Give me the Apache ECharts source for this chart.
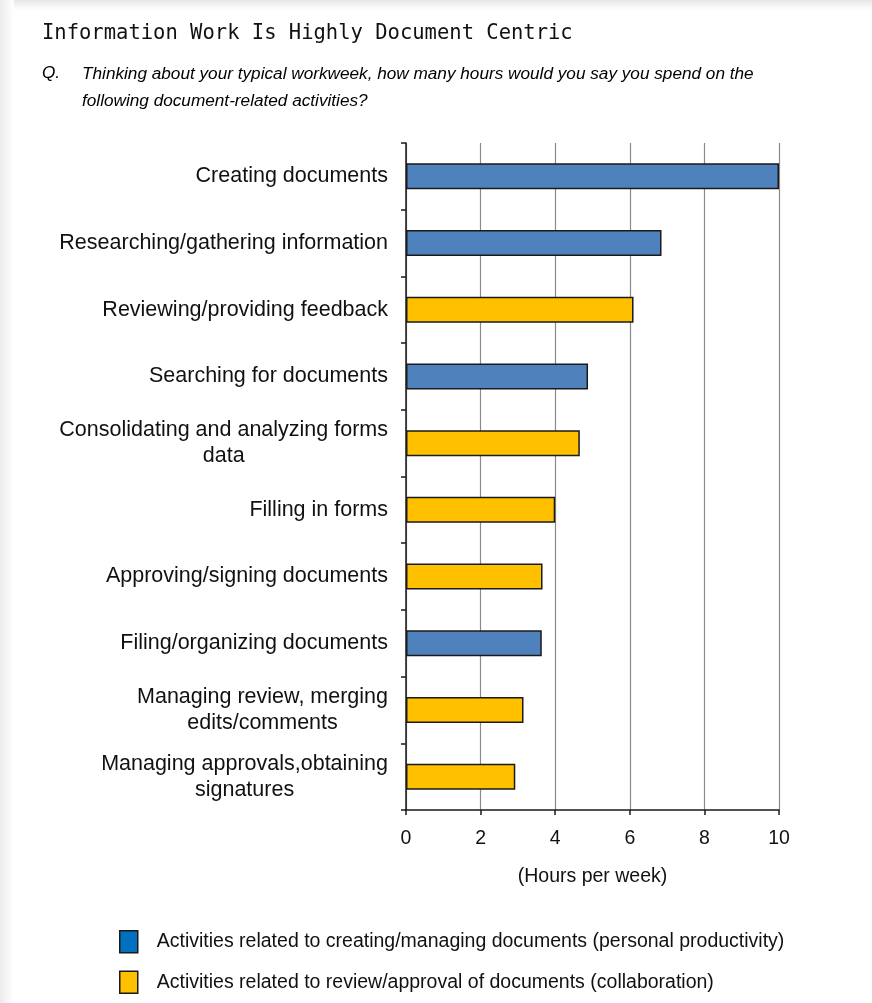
<!DOCTYPE html>
<html>
<head>
<meta charset="utf-8">
<script src="https://cdn.jsdelivr.net/npm/echarts@6/dist/echarts.min.js"></script>
<style>
html,body{margin:0;padding:0;background:#fff;}
#chart{width:872px;height:1003px;}
</style>
</head>
<body>
<div id="chart"></div>
<script>
const titleText = 'Information Work Is Highly Document Centric';
const questionLines = ['Thinking about your typical workweek, how many hours would you say you spend on the', 'following document-related activities?'];
const categories = [
  'Creating documents',
  'Researching/gathering information',
  'Reviewing/providing feedback',
  'Searching for documents',
  'Consolidating and analyzing forms\ndata',
  'Filling in forms',
  'Approving/signing documents',
  'Filing/organizing documents',
  'Managing review, merging\nedits/comments',
  'Managing approvals,obtaining\nsignatures'
];
const hours = [10.0, 6.85, 6.1, 4.88, 4.66, 4.0, 3.66, 3.64, 3.15, 2.93];
// 0 = personal productivity, 1 = collaboration
const groups = [0, 0, 1, 0, 1, 1, 1, 0, 1, 1];
const seriesNames = [
  'Activities related to creating/managing documents (personal productivity)',
  'Activities related to review/approval of documents (collaboration)'
];
const xTicks = {min: 0, max: 10, interval: 2};
const axisName = '(Hours per week)';

const barColors = ['#4F81BD', '#FFC000'];
const legendColors = ['#0070C0', '#FFC000'];

const chart = echarts.init(document.getElementById('chart'));

const series = seriesNames.map((name, g) => ({
  name: name,
  type: 'bar',
  barWidth: 26,
  barGap: '-100%',
  data: hours.map((v, i) => groups[i] === g ? v : '-'),
  itemStyle: {color: barColors[g], borderColor: '#1a1a1a', borderWidth: 1.5},
  emphasis: {disabled: true},
  z: 3
}));

chart.setOption({
  animation: false,
  backgroundColor: '#ffffff',
  graphic: [
    {type: 'rect', left: 0, top: 0, z: -10, shape: {width: 872, height: 10},
     style: {fill: new echarts.graphic.LinearGradient(0, 0, 0, 1, [{offset: 0, color: '#e6e6e6'}, {offset: 1, color: '#ffffff'}])}},
    {type: 'rect', left: 0, top: 0, z: -10, shape: {width: 14, height: 1003},
     style: {fill: new echarts.graphic.LinearGradient(0, 0, 1, 0, [{offset: 0, color: '#ececec'}, {offset: 1, color: '#ffffff'}])}},
    {type: 'text', left: 42, top: 23,
     style: {text: titleText, fontFamily: 'DejaVu Sans Mono', fontSize: 20.5, fill: '#111'}},
    {type: 'text', left: 42, top: 65,
     style: {text: 'Q.', fontFamily: 'Liberation Sans', fontStyle: 'italic', fontSize: 17.2, fill: '#000'}},
    {type: 'text', left: 82, top: 61,
     style: {text: questionLines.join('\n'), fontFamily: 'Liberation Sans', fontStyle: 'italic', fontSize: 17.2, lineHeight: 27, fill: '#000'}}
  ],
  grid: {left: 406, right: 93, top: 143, bottom: 193, containLabel: false},
  legend: {
    orient: 'vertical',
    left: 119,
    top: 930,
    height: 100,
    padding: 0,
    itemWidth: 18,
    itemHeight: 22,
    itemGap: 17,
    icon: 'rect',
    selectedMode: false,
    textStyle: {fontFamily: 'Liberation Sans', fontSize: 19.5, color: '#111', padding: [0, 0, 0, 14]},
    data: seriesNames.map((n, g) => ({name: n, itemStyle: {color: legendColors[g], borderColor: '#1a1a1a', borderWidth: 1.5}}))
  },
  xAxis: {
    type: 'value',
    min: xTicks.min,
    max: xTicks.max,
    interval: xTicks.interval,
    name: axisName,
    nameLocation: 'middle',
    nameGap: 57,
    nameTextStyle: {fontFamily: 'Liberation Sans', fontSize: 19.5, color: '#111'},
    axisLine: {show: true, lineStyle: {color: '#1a1a1a', width: 1.5}},
    axisTick: {show: true, length: 5, lineStyle: {color: '#1a1a1a', width: 1.5}},
    axisLabel: {fontFamily: 'Liberation Sans', fontSize: 19.5, color: '#111', margin: 19},
    splitLine: {show: true, lineStyle: {color: '#8a8a8a', width: 1.2}}
  },
  yAxis: {
    type: 'category',
    inverse: true,
    data: categories,
    axisLine: {show: true, lineStyle: {color: '#1a1a1a', width: 1.5}},
    axisTick: {show: true, length: 5, lineStyle: {color: '#1a1a1a', width: 1.5}},
    splitLine: {show: false},
    axisLabel: {
      margin: 18,
      fontFamily: 'Liberation Sans',
      fontSize: 21.5,
      color: '#111',
      formatter: v => v.split('\n').map(l => '{c|' + l + '}').join('\n'),
      rich: {c: {align: 'center', fontFamily: 'Liberation Sans', fontSize: 21.5, lineHeight: 26, color: '#111'}}
    }
  },
  series: series
});
</script>
</body>
</html>
